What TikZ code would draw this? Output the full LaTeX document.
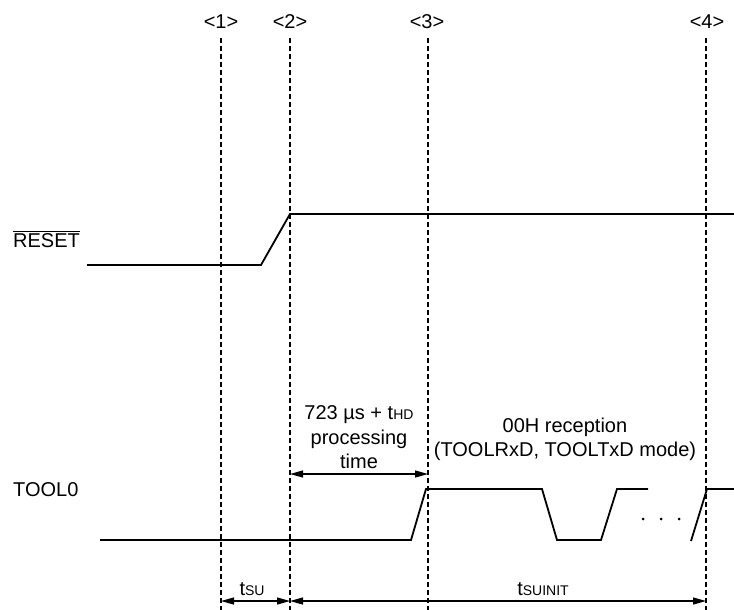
\documentclass[tikz,border=0pt]{standalone}
\usepackage{fontspec}
\setmainfont{Liberation Sans}
\usetikzlibrary{arrows.meta}
\newcommand{\subsm}[1]{{\fontsize{14}{14}\selectfont #1}}
\tikzset{
  guide/.style={line width=1.2pt, dash pattern=on 5pt off 3pt},
  sig/.style={line width=1.8pt},
  lbl/.style={font=\fontsize{20}{24}\selectfont, inner sep=0pt},
  dim/.style={line width=1.2pt, {Triangle[length=13pt,width=7pt]}-{Triangle[length=13pt,width=7pt]}},
}
\begin{document}
\begin{tikzpicture}[x=1pt,y=-1pt]
\useasboundingbox (0,0) rectangle (734,610);
% guide lines
\coordinate (g1t) at (221,38); \coordinate (g1b) at (221,610);
\coordinate (g2t) at (290,38); \coordinate (g2b) at (290,610);
\coordinate (g3t) at (428,38); \coordinate (g3b) at (428,610);
\coordinate (g4t) at (706,38); \coordinate (g4b) at (706,610);
\draw[guide] (g1t) -- (g1b);
\draw[guide] (g2t) -- (g2b);
\draw[guide] (g3t) -- (g3b);
\draw[guide] (g4t) -- (g4b);
\node[lbl, anchor=base] (l1) at (221,29) {<1>};
\node[lbl, anchor=base] (l2) at (290,29) {<2>};
\node[lbl, anchor=base] (l3) at (427,29) {<3>};
\node[lbl, anchor=base] (l4) at (707,29) {<4>};
% RESET
\node[lbl, anchor=base west] (reset) at (13,247) {$\overline{\mbox{RESET}}$};
\draw[sig] (87,265) -- (261,265) -- (290,214) -- (734,214);
% TOOL0
\node[lbl, anchor=base west] (tool0) at (13,496) {TOOL0};
\draw[sig] (100,540) -- (411,540) -- (426,489) -- (542,489) -- (557,540) -- (601,540) -- (617,489) -- (648,489);
\foreach \x in {643,661,679} \fill (\x,519) circle (1.5pt);
\draw[sig] (691,541) -- (707,489) -- (734,489);
% processing
\coordinate (pa) at (290,474); \coordinate (pb) at (428,474);
\draw[dim] (pa) -- (pb);
\node[lbl, anchor=base] (p1) at (359,419) {723 µs + t\subsm{HD}};
\node[lbl, anchor=base] (p2) at (359,444) {processing};
\node[lbl, anchor=base] (p3) at (359,468) {time};
\node[lbl, anchor=base] (r1) at (565,432) {00H reception};
\node[lbl, anchor=base] (r2) at (565,456) {(TOOLRxD, TOOLTxD mode)};
% bottom
\coordinate (b1) at (221,601); \coordinate (b2) at (290,601); \coordinate (b4) at (706,601);
\draw[dim] (b1) -- (b2);
\draw[dim] (b2) -- (b4);
\node[lbl, anchor=base] (tsu) at (252,595) {t\subsm{SU}};
\node[lbl, anchor=base] (tsuinit) at (543,595) {t\subsm{SUINIT}};
\end{tikzpicture}
\end{document}
